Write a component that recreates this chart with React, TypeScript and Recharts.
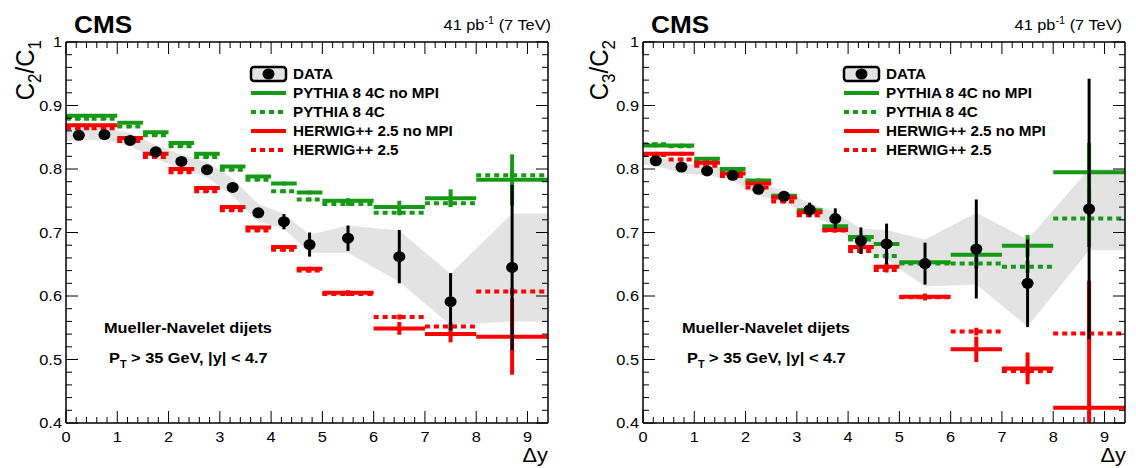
import React from "react";
import { ComposedChart, Line, Area, Scatter, ErrorBar, XAxis, YAxis } from "recharts";

// bins in delta-y
const binLo = [0, 0.5, 1, 1.5, 2, 2.5, 3, 3.5, 4, 4.5, 5, 6, 7, 8];
const binHi = [0.5, 1, 1.5, 2, 2.5, 3, 3.5, 4, 4.5, 5, 6, 7, 8, 9.4];
const binCenter = [0.25, 0.75, 1.25, 1.75, 2.25, 2.75, 3.25, 3.75, 4.25, 4.75, 5.5, 6.5, 7.5, 8.7];

// ---- C2/C1 ----
const dataC21 = [0.853, 0.854, 0.845, 0.827, 0.812, 0.799, 0.771, 0.731, 0.717, 0.681, 0.691, 0.662, 0.591, 0.645];
const dataErrC21 = [0.003, 0.003, 0.003, 0.003, 0.004, 0.004, 0.005, 0.006, 0.012, 0.019, 0.02, 0.042, 0.045, 0.13];
const pyNoMpiC21 = [0.884, 0.884, 0.873, 0.858, 0.841, 0.824, 0.804, 0.788, 0.777, 0.763, 0.75, 0.74, 0.754, 0.783];
const pyNoMpiErrC21 = [0.002, 0.002, 0.002, 0.002, 0.002, 0.002, 0.002, 0.002, 0.003, 0.003, 0.004, 0.01, 0.014, 0.04];
const pyMpiC21 = [0.879, 0.879, 0.867, 0.853, 0.836, 0.819, 0.799, 0.783, 0.765, 0.752, 0.745, 0.731, 0.746, 0.79];
const pyMpiErrC21 = [0.002, 0.002, 0.002, 0.002, 0.002, 0.002, 0.002, 0.002, 0.003, 0.003, 0.003, 0.004, 0.005, 0.01];
const hwNoMpiC21 = [0.869, 0.869, 0.849, 0.824, 0.8, 0.77, 0.74, 0.708, 0.677, 0.643, 0.605, 0.549, 0.54, 0.536];
const hwNoMpiErrC21 = [0.002, 0.002, 0.002, 0.002, 0.002, 0.002, 0.002, 0.002, 0.003, 0.003, 0.004, 0.01, 0.013, 0.06];
const hwMpiC21 = [0.864, 0.864, 0.844, 0.819, 0.795, 0.765, 0.735, 0.703, 0.673, 0.64, 0.603, 0.567, 0.552, 0.607];
const hwMpiErrC21 = [0.002, 0.002, 0.002, 0.002, 0.002, 0.002, 0.002, 0.002, 0.003, 0.003, 0.003, 0.004, 0.006, 0.006];
const bandX = [0, 0.25, 0.75, 1.25, 1.75, 2.25, 2.75, 3.25, 3.75, 4.25, 4.75, 5.5, 6.5, 7.5, 8.7, 9.4];
const bandLoC21 = [0.844, 0.845, 0.846, 0.836, 0.816, 0.8, 0.787, 0.757, 0.717, 0.706, 0.668, 0.668, 0.622, 0.554, 0.56, 0.56];
const bandHiC21 = [0.862, 0.863, 0.864, 0.857, 0.838, 0.823, 0.811, 0.785, 0.745, 0.73, 0.696, 0.711, 0.703, 0.635, 0.73, 0.73];

// ---- C3/C2 ----
const dataC32 = [0.813, 0.803, 0.797, 0.79, 0.768, 0.757, 0.736, 0.722, 0.687, 0.682, 0.651, 0.674, 0.62, 0.737];
const dataErrC32 = [0.004, 0.004, 0.004, 0.004, 0.005, 0.006, 0.011, 0.016, 0.021, 0.032, 0.033, 0.078, 0.069, 0.205];
const pyNoMpiC32 = [0.837, 0.837, 0.816, 0.8, 0.782, 0.758, 0.735, 0.71, 0.693, 0.682, 0.653, 0.665, 0.679, 0.795];
const pyNoMpiErrC32 = [0.003, 0.003, 0.003, 0.003, 0.003, 0.003, 0.003, 0.003, 0.004, 0.005, 0.006, 0.01, 0.017, 0.046];
const pyMpiC32 = [0.839, 0.836, 0.812, 0.797, 0.779, 0.755, 0.733, 0.708, 0.689, 0.663, 0.651, 0.651, 0.646, 0.722];
const pyMpiErrC32 = [0.003, 0.003, 0.003, 0.003, 0.003, 0.003, 0.003, 0.003, 0.004, 0.005, 0.006, 0.008, 0.01, 0.045];
const hwNoMpiC32 = [0.824, 0.824, 0.81, 0.793, 0.777, 0.755, 0.732, 0.704, 0.677, 0.646, 0.599, 0.516, 0.486, 0.424];
const hwNoMpiErrC32 = [0.003, 0.003, 0.003, 0.003, 0.003, 0.003, 0.003, 0.003, 0.004, 0.006, 0.005, 0.02, 0.025, 0.2];
const hwMpiC32 = [0.822, 0.815, 0.805, 0.789, 0.771, 0.749, 0.727, 0.703, 0.671, 0.641, 0.598, 0.544, 0.482, 0.541];
const hwMpiErrC32 = [0.003, 0.003, 0.003, 0.003, 0.003, 0.003, 0.003, 0.003, 0.004, 0.004, 0.005, 0.006, 0.006, 0.01];
const bandLoC32 = [0.807, 0.805, 0.793, 0.79, 0.782, 0.758, 0.748, 0.727, 0.711, 0.675, 0.657, 0.615, 0.618, 0.552, 0.672, 0.672];
const bandHiC32 = [0.821, 0.819, 0.81, 0.805, 0.8, 0.777, 0.766, 0.746, 0.732, 0.706, 0.704, 0.689, 0.731, 0.689, 0.8, 0.8];

const xMajor = [0, 1, 2, 3, 4, 5, 6, 7, 8, 9];
const yMajor = [0.4, 0.5, 0.6, 0.7, 0.8, 0.9, 1];
const xTicks = Array.from({ length: 47 }, (_, i) => +(i * 0.2).toFixed(1));
const yTicks = Array.from({ length: 31 }, (_, i) => +(0.4 + i * 0.02).toFixed(2));
const Y_MIN = 0.4;
const Y_MAX = 1;

const GREEN = "#169a16";
const RED = "#ff0000";
const FONT = "'Liberation Sans', Arial, Helvetica, sans-serif";
const SX = 1.09; // the picture is a little wider than tall

const legendItems = [
  { label: "PYTHIA 8 4C no MPI", color: GREEN, dash: undefined },
  { label: "PYTHIA 8 4C", color: GREEN, dash: "5 4" },
  { label: "HERWIG++ 2.5 no MPI", color: RED, dash: undefined },
  { label: "HERWIG++ 2.5", color: RED, dash: "5 4" },
];

const isMajor = (v: number, list: number[]) => list.some((m) => Math.abs(m - v) < 1e-6);

const steps = (vals: number[]) =>
  vals.flatMap((v, i) => [
    { x: binLo[i], y: v },
    { x: binHi[i], y: v },
    { x: binHi[i], y: null },
  ]);

// error bars are cut at the frame, like the picture does
const points = (vals: number[], errs: number[]) =>
  vals.map((v, i) => ({
    x: binCenter[i],
    y: v,
    e: [Math.min(errs[i], v - Y_MIN), Math.min(errs[i], Y_MAX - v)],
  }));

const SText = ({ x, y, children, ...rest }: any) => (
  <text transform={`translate(${x} ${y}) scale(${SX} 1)`} fontFamily={FONT} fill="#000" {...rest}>
    {children}
  </text>
);

const BottomTick = (p: any) => {
  const v = p.payload.value;
  const major = isMajor(v, xMajor);
  return (
    <g>
      <line x1={p.x} x2={p.x} y1={p.y} y2={p.y - (major ? 12 : 6)} stroke="#000" />
      {major && (
        <SText x={p.x} y={p.y + 19} textAnchor="middle" fontSize={15}>
          {v}
        </SText>
      )}
    </g>
  );
};
const TopTick = (p: any) => {
  const major = isMajor(p.payload.value, xMajor);
  return <line x1={p.x} x2={p.x} y1={p.y} y2={p.y + (major ? 12 : 6)} stroke="#000" />;
};
const LeftTick = (p: any) => {
  const v = p.payload.value;
  const major = isMajor(v, yMajor);
  return (
    <g>
      <line x1={p.x} x2={p.x + (major ? 12 : 6)} y1={p.y} y2={p.y} stroke="#000" />
      {major && (
        <SText x={p.x - 4} y={p.y + 5} textAnchor="end" fontSize={15}>
          {v}
        </SText>
      )}
    </g>
  );
};
const RightTick = (p: any) => {
  const major = isMajor(p.payload.value, yMajor);
  return <line x1={p.x} x2={p.x - (major ? 12 : 6)} y1={p.y} y2={p.y} stroke="#000" />;
};

const Dot = (p: any) => <ellipse cx={p.cx} cy={p.cy} rx={6} ry={5.5} fill="#000" />;
const NoShape = () => <g />;

interface PanelProps {
  data: number[];
  dataErr: number[];
  pyNoMpi: number[];
  pyNoMpiErr: number[];
  pyMpi: number[];
  pyMpiErr: number[];
  hwNoMpi: number[];
  hwNoMpiErr: number[];
  hwMpi: number[];
  hwMpiErr: number[];
  bandLo: number[];
  bandHi: number[];
  leftW: number;
  rightW: number;
}

const axisLine = { stroke: "#000", strokeWidth: 1.5 };

function Panel(props: PanelProps) {
  const band = bandX.map((x, i) => ({ x, band: [props.bandLo[i], props.bandHi[i]] }));
  const mc = [
    { key: "pyNoMpi", vals: props.pyNoMpi, errs: props.pyNoMpiErr, color: GREEN, dash: undefined },
    { key: "pyMpi", vals: props.pyMpi, errs: props.pyMpiErr, color: GREEN, dash: "5 4" },
    { key: "hwNoMpi", vals: props.hwNoMpi, errs: props.hwNoMpiErr, color: RED, dash: undefined },
    { key: "hwMpi", vals: props.hwMpi, errs: props.hwMpiErr, color: RED, dash: "5 4" },
  ];
  return (
    <ComposedChart width={568} height={468} data={band} margin={{ top: 0, bottom: 0, left: 0, right: 0 }}>
      <XAxis
        xAxisId="b"
        type="number"
        dataKey="x"
        domain={[0, 9.4]}
        allowDataOverflow
        ticks={xTicks}
        interval={0}
        tickSize={0}
        tickMargin={0}
        tick={BottomTick}
        tickLine={false}
        height={45}
        axisLine={axisLine}
      />
      <XAxis
        xAxisId="t"
        orientation="top"
        type="number"
        dataKey="x"
        domain={[0, 9.4]}
        allowDataOverflow
        ticks={xTicks}
        interval={0}
        tickSize={0}
        tickMargin={0}
        tick={TopTick}
        tickLine={false}
        height={42}
        axisLine={axisLine}
      />
      <YAxis
        yAxisId="l"
        type="number"
        dataKey="y"
        domain={[Y_MIN, Y_MAX]}
        allowDataOverflow
        ticks={yTicks}
        interval={0}
        tickSize={0}
        tickMargin={0}
        tick={LeftTick}
        tickLine={false}
        width={props.leftW}
        axisLine={axisLine}
      />
      <YAxis
        yAxisId="r"
        orientation="right"
        type="number"
        dataKey="y"
        domain={[Y_MIN, Y_MAX]}
        allowDataOverflow
        ticks={yTicks}
        interval={0}
        tickSize={0}
        tickMargin={0}
        tick={RightTick}
        tickLine={false}
        width={props.rightW}
        axisLine={axisLine}
      />
      <Area
        xAxisId="b"
        yAxisId="l"
        type="linear"
        dataKey="band"
        fill="#e3e3e3"
        fillOpacity={1}
        stroke="none"
        isAnimationActive={false}
      />
      {mc.map((s) => (
        <Line
          key={s.key}
          xAxisId="b"
          yAxisId="l"
          data={steps(s.vals)}
          dataKey="y"
          stroke={s.color}
          strokeWidth={4}
          strokeDasharray={s.dash}
          dot={false}
          activeDot={false}
          connectNulls={false}
          isAnimationActive={false}
        />
      ))}
      {mc.map((s) => (
        <Scatter
          key={s.key + "err"}
          xAxisId="b"
          yAxisId="l"
          data={points(s.vals, s.errs)}
          dataKey="y"
          shape={NoShape}
          isAnimationActive={false}
        >
          <ErrorBar dataKey="e" direction="y" width={0} stroke={s.color} strokeWidth={4} isAnimationActive={false} />
        </Scatter>
      ))}
      <Scatter
        xAxisId="b"
        yAxisId="l"
        data={points(props.data, props.dataErr)}
        dataKey="y"
        shape={Dot}
        isAnimationActive={false}
      >
        <ErrorBar dataKey="e" direction="y" width={0} stroke="#000" strokeWidth={3} isAnimationActive={false} />
      </Scatter>
    </ComposedChart>
  );
}

interface AnnoProps {
  num: string;
  den: string;
  cmsX: number;
  lumiX: number;
  titleX: number;
  dyX: number;
  textX: number;
  legX: number;
}

function Annotations(a: AnnoProps) {
  return (
    <g>
      <SText x={a.cmsX} y={33} fontSize={24} fontWeight="bold">CMS</SText>
      <SText x={a.lumiX} y={30} fontSize={15} textAnchor="end">
        41 pb<tspan fontSize={10} dy={-6}>-1</tspan>
        <tspan dy={6}> (7 TeV)</tspan>
      </SText>
      <text
        transform={`translate(${a.titleX} 40) scale(${SX} 1) rotate(-90)`}
        fontFamily={FONT}
        fontSize={24}
        textAnchor="end"
      >
        C<tspan fontSize={17} dy={6}>{a.num}</tspan>
        <tspan dy={-6}>/C</tspan>
        <tspan fontSize={17} dy={6}>{a.den}</tspan>
      </text>
      <SText x={a.dyX} y={462} fontSize={20} textAnchor="end">Δy</SText>
      <SText x={a.textX} y={333} fontSize={15} fontWeight="bold">Mueller-Navelet dijets</SText>
      <SText x={a.textX + 5} y={363} fontSize={15} fontWeight="bold">
        P<tspan fontSize={10} dy={5}>T</tspan>
        <tspan dy={-5}> &gt; 35 GeV, |y| &lt; 4.7</tspan>
      </SText>
      <rect x={a.legX} y={67} width={35} height={14} rx={3} fill="#e3e3e3" stroke="#000" strokeWidth={2.5} />
      <ellipse cx={a.legX + 17.5} cy={74} rx={6} ry={5.5} fill="#000" />
      <SText x={a.legX + 42} y={79} fontSize={14} fontWeight="bold">DATA</SText>
      {legendItems.map((it, i) => (
        <g key={it.label}>
          <line
            x1={a.legX}
            x2={a.legX + 35}
            y1={93 + i * 19}
            y2={93 + i * 19}
            stroke={it.color}
            strokeWidth={4}
            strokeDasharray={it.dash}
          />
          <SText x={a.legX + 42} y={98 + i * 19} fontSize={14} fontWeight="bold">
            {it.label}
          </SText>
        </g>
      ))}
    </g>
  );
}

export default function App() {
  return (
    <div style={{ position: "absolute", left: 0, top: 0, width: 1136, height: 468, background: "#fff" }}>
      <div style={{ position: "absolute", left: 0, top: 0 }}>
        <Panel
          data={dataC21}
          dataErr={dataErrC21}
          pyNoMpi={pyNoMpiC21}
          pyNoMpiErr={pyNoMpiErrC21}
          pyMpi={pyMpiC21}
          pyMpiErr={pyMpiErrC21}
          hwNoMpi={hwNoMpiC21}
          hwNoMpiErr={hwNoMpiErrC21}
          hwMpi={hwMpiC21}
          hwMpiErr={hwMpiErrC21}
          bandLo={bandLoC21}
          bandHi={bandHiC21}
          leftW={66}
          rightW={20}
        />
      </div>
      <div style={{ position: "absolute", left: 568, top: 0 }}>
        <Panel
          data={dataC32}
          dataErr={dataErrC32}
          pyNoMpi={pyNoMpiC32}
          pyNoMpiErr={pyNoMpiErrC32}
          pyMpi={pyMpiC32}
          pyMpiErr={pyMpiErrC32}
          hwNoMpi={hwNoMpiC32}
          hwNoMpiErr={hwNoMpiErrC32}
          hwMpi={hwMpiC32}
          hwMpiErr={hwMpiErrC32}
          bandLo={bandLoC32}
          bandHi={bandHiC32}
          leftW={75}
          rightW={11}
        />
      </div>
      <svg width={1136} height={468} style={{ position: "absolute", left: 0, top: 0, pointerEvents: "none" }}>
        <Annotations num="2" den="1" cmsX={74} lumiX={551} titleX={34} dyX={548} textX={104} legX={251} />
        <Annotations num="3" den="2" cmsX={651} lumiX={1122} titleX={608} dyX={1126} textX={682} legX={844} />
      </svg>
    </div>
  );
}
